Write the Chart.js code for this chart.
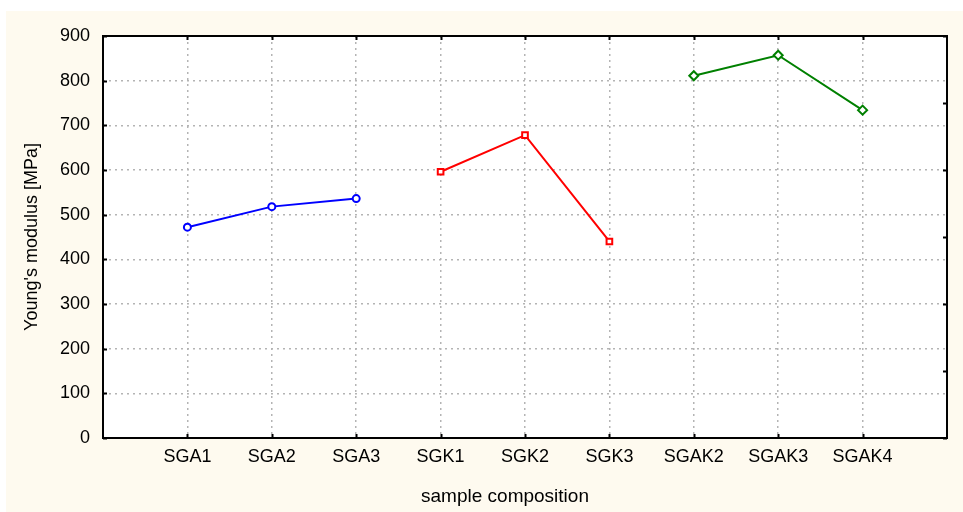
<!DOCTYPE html>
<html>
<head>
<meta charset="utf-8">
<script src="https://cdn.jsdelivr.net/npm/chart.js@4/dist/chart.umd.min.js"></script>
<style>
  html, body { margin: 0; padding: 0; background: #ffffff; }
  #wrap { width: 963px; height: 512px; }
</style>
</head>
<body>
<div id="wrap"><canvas id="c" width="963" height="512"></canvas></div>
<script>
// Sample compositions along the x axis
const categories = ['SGA1', 'SGA2', 'SGA3', 'SGK1', 'SGK2', 'SGK3', 'SGAK2', 'SGAK3', 'SGAK4'];

// Young's modulus [MPa] for each group
const sgaValues  = [472, 518, 536];
const sgkValues  = [596, 678, 440];
const sgakValues = [811, 857, 734];

// Category slot of the first sample in each group (1-based)
const sgaStart = 1, sgkStart = 4, sgakStart = 7;

const yTicks = [0, 100, 200, 300, 400, 500, 600, 700, 800, 900];

const FONT = '"Liberation Sans", Arial, sans-serif';

function toPoints(values, start) {
  return values.map((v, i) => ({ x: start + i, y: v }));
}

// Page background, plot frame, inward tick marks and axis titles
const decor = {
  id: 'decor',
  beforeDraw(chart) {
    const { ctx, chartArea: a } = chart;
    ctx.save();
    ctx.fillStyle = '#ffffff';
    ctx.fillRect(0, 0, chart.width, chart.height);
    ctx.fillStyle = '#fefaef';
    ctx.fillRect(6, 11, chart.width - 6, chart.height - 11);
    ctx.fillStyle = '#ffffff';
    ctx.fillRect(a.left, a.top, a.right - a.left, a.bottom - a.top);
    ctx.restore();
  },
  afterDraw(chart) {
    const { ctx, chartArea: a, scales } = chart;
    const xs = scales.x, ys = scales.y;
    ctx.save();
    ctx.strokeStyle = '#000000';
    ctx.lineWidth = 2;
    ctx.beginPath();
    // inward ticks on the category positions (top and bottom)
    for (let i = 1; i <= categories.length; i++) {
      const px = Math.round(xs.getPixelForValue(i)) + 0.5;
      ctx.moveTo(px, a.bottom); ctx.lineTo(px, a.bottom - 4);
      ctx.moveTo(px, a.top); ctx.lineTo(px, a.top + 4);
    }
    // inward ticks on the left value axis
    yTicks.forEach(v => {
      const py = Math.round(ys.getPixelForValue(v)) + 0.5;
      ctx.moveTo(a.left, py); ctx.lineTo(a.left + 4, py);
    });
    // inward ticks on the right edge
    for (let v = 0; v <= 900; v += 150) {
      const py = Math.round(ys.getPixelForValue(v)) + 0.5;
      ctx.moveTo(a.right, py); ctx.lineTo(a.right - 4, py);
    }
    ctx.stroke();
    ctx.strokeRect(a.left, a.top, a.right - a.left, a.bottom - a.top);

    ctx.fillStyle = '#000000';
    ctx.textAlign = 'center';
    ctx.textBaseline = 'alphabetic';
    ctx.font = '19px ' + FONT;
    ctx.fillText('sample composition', 505, 502);
    ctx.font = '18px ' + FONT;
    ctx.translate(37, (a.top + a.bottom) / 2);
    ctx.rotate(-Math.PI / 2);
    ctx.fillText("Young's modulus [MPa]", 0, 0);
    ctx.restore();
  }
};

const lineStyle = (color, shape, r) => ({
  borderColor: color,
  backgroundColor: color,
  borderWidth: 2,
  pointStyle: shape,
  pointRadius: r,
  pointHoverRadius: r,
  pointBackgroundColor: '#ffffff',
  pointBorderColor: color,
  pointBorderWidth: 2,
  tension: 0,
  fill: false
});

new Chart(document.getElementById('c'), {
  type: 'line',
  data: {
    datasets: [
      Object.assign({ label: 'SGA', data: toPoints(sgaValues, sgaStart) }, lineStyle('#0000ff', 'circle', 3.5)),
      Object.assign({ label: 'SGK', data: toPoints(sgkValues, sgkStart) }, lineStyle('#ff0000', 'rect', 4)),
      Object.assign({ label: 'SGAK', data: toPoints(sgakValues, sgakStart) }, lineStyle('#008000', 'rectRot', 4.5))
    ]
  },
  options: {
    responsive: false,
    animation: false,
    devicePixelRatio: 1,
    layout: { padding: { left: 0, top: 36, right: 16, bottom: 0 } },
    plugins: {
      legend: { display: false },
      tooltip: { enabled: false }
    },
    scales: {
      x: {
        type: 'linear',
        min: 0,
        max: categories.length + 1,
        afterFit(s) { s.height = 74; },
        afterBuildTicks(s) {
          s.ticks = [];
          for (let i = 0; i <= categories.length + 1; i++) s.ticks.push({ value: i });
        },
        ticks: {
          autoSkip: false,
          maxRotation: 0,
          padding: 8,
          color: '#000000',
          font: { family: FONT, size: 18 },
          callback: v => categories[v - 1] || ''
        },
        grid: { color: '#b4b4b4', lineWidth: 1.5, drawTicks: false },
        border: { display: false, dash: [2, 4] }
      },
      y: {
        type: 'linear',
        min: 0,
        max: 900,
        afterFit(s) { s.width = 103; },
        afterBuildTicks(s) { s.ticks = yTicks.map(v => ({ value: v })); },
        ticks: {
          padding: 13,
          color: '#000000',
          font: { family: FONT, size: 18 }
        },
        grid: { color: '#b4b4b4', lineWidth: 1.5, drawTicks: false },
        border: { display: false, dash: [2, 4] }
      }
    }
  },
  plugins: [decor]
});
</script>
</body>
</html>
